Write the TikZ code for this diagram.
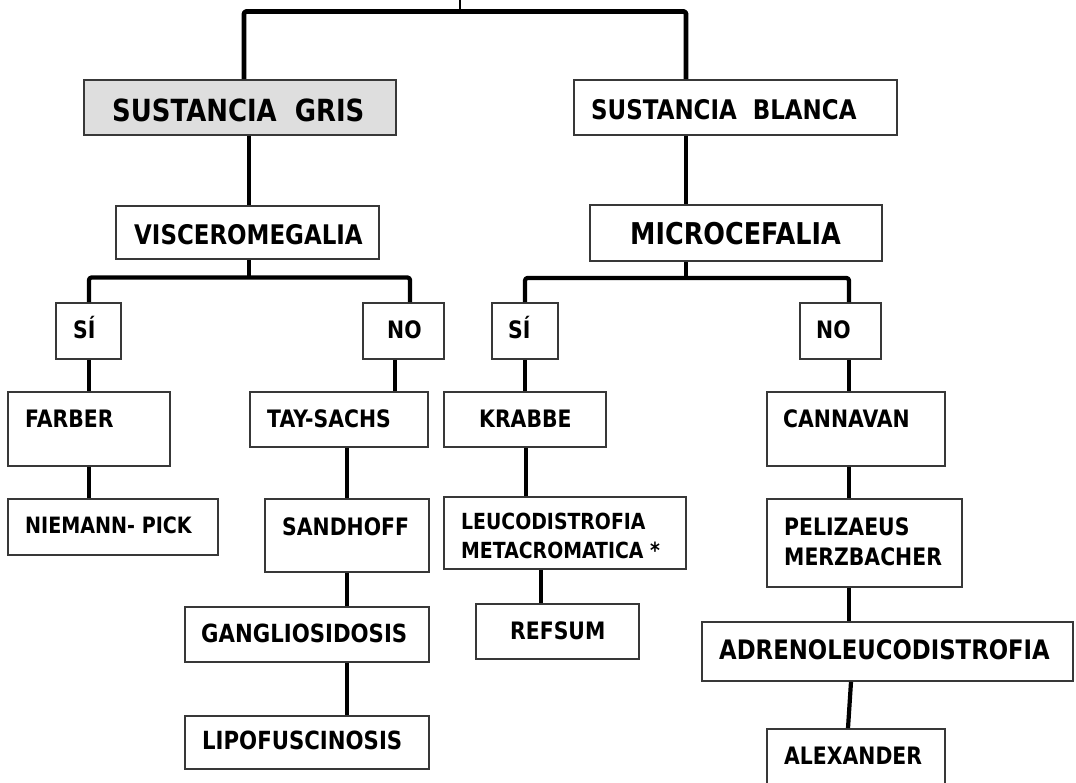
\documentclass[tikz,border=0pt]{standalone}
\usepackage{fontspec}
\newfontfamily\tfont{DejaVu Sans}[FakeStretch=0.85]
\begin{document}
\begin{tikzpicture}[x=1pt,y=-1pt,
  bx/.style={draw=black!78,line width=1.8pt,inner sep=0pt,fill=white},
  grisbox/.style={fill=black!13},
  tx/.style={anchor=base west,inner sep=0pt,text=black,font=\tfont\bfseries\fontsize{#1}{#1}\selectfont},
  tx/.default=24,
  conn/.style={draw=black,line width=4.2pt,line join=round,rounded corners=2.5pt},
  stub/.style={draw=black,line width=1.6pt}]
\useasboundingbox (0,0) rectangle (1076,783);
\newcommand\mkbox[6][]{\node[bx,#1,minimum width={(#5)-(#3)},minimum height={(#6)-(#4)}] (#2) at ({((#3)+(#5))/2},{((#4)+(#6))/2}) {};}
% boxes
\mkbox[grisbox]{gris}{84}{80}{396}{135}
\mkbox{blanca}{574}{80}{897}{135}
\mkbox{visc}{116}{206}{379}{259}
\mkbox{micro}{590}{205}{882}{261}
\mkbox{sia}{56}{303}{121}{359}
\mkbox{noa}{363}{303}{444}{359}
\mkbox{sib}{492}{303}{558}{359}
\mkbox{nob}{800}{303}{881}{359}
\mkbox{farber}{8}{392}{170}{466}
\mkbox{tay}{250}{392}{428}{447}
\mkbox{krabbe}{444}{392}{606}{447}
\mkbox{cann}{767}{392}{945}{466}
\mkbox{niemann}{8}{499}{218}{555}
\mkbox{sand}{265}{499}{429}{572}
\mkbox{leuco}{444}{497}{686}{569}
\mkbox{refsum}{476}{604}{639}{659}
\mkbox{peli}{767}{499}{962}{587}
\mkbox{gang}{185}{607}{429}{662}
\mkbox{adreno}{702}{622}{1073}{681}
\mkbox{lipo}{185}{716}{429}{769}
\mkbox{alex}{767}{729}{945}{795}
% texts
\node[tx=30.5] (grist) at (112,122) {SUSTANCIA\ \ GRIS};
\node[tx=27] (blancat) at (591,120) {SUSTANCIA\ \ BLANCA};
\node[tx=27] (visct) at (134,245) {VISCEROMEGALIA};
\node[tx=30] (microt) at (630,245) {MICROCEFALIA};
\node[tx=24] (siat) at (73,338.3) {SÍ};
\node[tx=24] (noat) at (387,338.3) {NO};
\node[tx=24] (sibt) at (508,338.3) {SÍ};
\node[tx=24] (nobt) at (816,338.3) {NO};
\node[tx=24] (farbert) at (25,427.3) {FARBER};
\node[tx=24] (tayt) at (267,427.3) {TAY-SACHS};
\node[tx=24] (krabbet) at (479,427.3) {KRABBE};
\node[tx=24] (cannt) at (783,427.3) {CANNAVAN};
\node[tx=22.5] (niemannt) at (25,533.3) {NIEMANN- PICK};
\node[tx=24] (sandt) at (282,535) {SANDHOFF};
\node[tx=22.2] (leucota) at (461,529.3) {LEUCODISTROFIA};
\node[tx=22.2] (leucotb) at (461,558.3) {METACROMATICA *};
\node[tx=24] (refsumt) at (510,639) {REFSUM};
\node[tx=25] (gangt) at (201,642.7) {GANGLIOSIDOSIS};
\node[tx=24] (pelita) at (784,535) {PELIZAEUS};
\node[tx=24] (pelitb) at (784,565) {MERZBACHER};
\node[tx=26.8] (adrenot) at (719,659.3) {ADRENOLEUCODISTROFIA};
\node[tx=25] (lipot) at (202,749.3) {LIPOFUSCINOSIS};
\node[tx=24] (alext) at (784,764) {ALEXANDER};
% connector coordinates
\coordinate (top) at (460,0);
\coordinate (barL) at (244,11.5);
\coordinate (barR) at (686,11.5);
\coordinate (xg) at (249,0);
\coordinate (bl) at (89,277.5);
\coordinate (br) at (410,277.5);
\coordinate (ml) at (525,278);
\coordinate (mr) at (849,278);
\coordinate (xno) at (395,0);
\coordinate (xt) at (347,0);
\coordinate (xk) at (526,0);
\coordinate (xle) at (541,0);
\coordinate (xa1) at (851,0);
\coordinate (xa2) at (848,0);
% connectors
\draw[stub] (top) -- (top |- barL);
\draw[conn,line width=4.8pt] (gris.north -| barL) -- (barL) -- (barR) -- (blanca.north -| barR);
\draw[conn] (gris.south -| xg) -- (visc.north -| xg);
\draw[conn] (blanca.south -| barR) -- (micro.north -| barR);
\draw[conn] (visc.south -| xg) -- (bl -| xg);
\draw[conn] (sia.north -| bl) -- (bl) -- (br) -- (noa.north -| br);
\draw[conn] (micro.south -| barR) -- (ml -| barR);
\draw[conn] (sib.north -| ml) -- (ml) -- (mr) -- (nob.north -| mr);
\draw[conn] (sia.south -| bl) -- (farber.north -| bl);
\draw[conn] (farber.south -| bl) -- (niemann.north -| bl);
\draw[conn] (noa.south -| xno) -- (tay.north -| xno);
\draw[conn] (tay.south -| xt) -- (sand.north -| xt);
\draw[conn] (sand.south -| xt) -- (gang.north -| xt);
\draw[conn] (gang.south -| xt) -- (lipo.north -| xt);
\draw[conn] (sib.south -| ml) -- (krabbe.north -| ml);
\draw[conn] (krabbe.south -| xk) -- (leuco.north -| xk);
\draw[conn] (leuco.south -| xle) -- (refsum.north -| xle);
\draw[conn] (nob.south -| mr) -- (cann.north -| mr);
\draw[conn] (cann.south -| mr) -- (peli.north -| mr);
\draw[conn] (peli.south -| mr) -- (adreno.north -| mr);
\draw[conn] (adreno.south -| xa1) -- (alex.north -| xa2);
\end{tikzpicture}
\end{document}
